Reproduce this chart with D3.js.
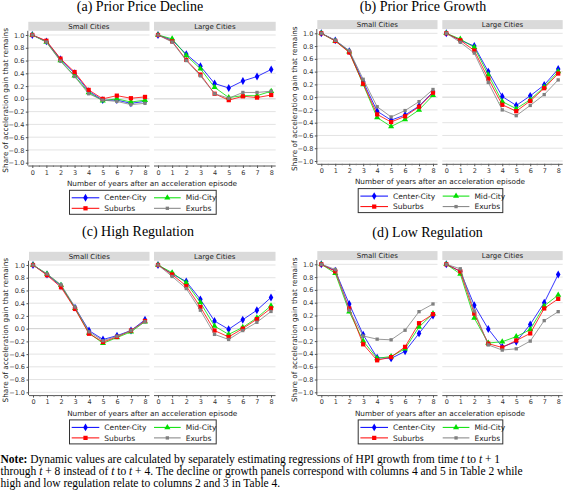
<!DOCTYPE html>
<html><head><meta charset="utf-8">
<script src="https://cdn.jsdelivr.net/npm/d3@7"></script>
<style>body{margin:0;background:#fff}svg{display:block}</style></head>
<body><svg id="chart" width="563" height="501"></svg>
<script>
// ---------- data ----------
const years = [0, 1, 2, 3, 4, 5, 6, 7, 8];
const seriesNames = ["Center-City", "Mid-City", "Suburbs", "Exurbs"];
const panelTitles = ["(a) Prior Price Decline", "(b) Prior Price Growth", "(c) High Regulation", "(d) Low Regulation"];
const facetLabels = ["Small Cities", "Large Cities"];
const yTickValues = [-1.0, -0.8, -0.6, -0.4, -0.2, 0.0, 0.2, 0.4, 0.6, 0.8, 1.0];
const xAxisTitle = "Number of years after an acceleration episode";
const yAxisTitle = "Share of acceleration gain that remains";

// rows: Center-City, Mid-City, Suburbs, Exurbs
const declineSmall = [
  [1.00, 0.90, 0.62, 0.40, 0.12, -0.02, -0.02, -0.07, -0.04],
  [1.00, 0.89, 0.60, 0.36, 0.10, -0.03, 0.00, -0.05, -0.02],
  [1.00, 0.91, 0.63, 0.42, 0.14, 0.00, 0.05, 0.01, 0.03],
  [1.00, 0.89, 0.59, 0.35, 0.08, -0.02, -0.04, -0.09, -0.07]
];
const declineLarge = [
  [1.00, 0.92, 0.70, 0.51, 0.24, 0.17, 0.28, 0.35, 0.46],
  [1.00, 0.94, 0.68, 0.47, 0.18, 0.02, 0.05, 0.05, 0.12],
  [1.00, 0.90, 0.61, 0.38, 0.08, -0.02, 0.04, 0.02, 0.06],
  [1.00, 0.89, 0.60, 0.36, 0.08, 0.01, 0.10, 0.10, 0.12]
];
const growthSmall = [
  [1.00, 0.89, 0.72, 0.24, -0.22, -0.36, -0.28, -0.14, 0.08],
  [1.00, 0.88, 0.71, 0.20, -0.32, -0.46, -0.35, -0.20, 0.03],
  [1.00, 0.88, 0.70, 0.21, -0.27, -0.39, -0.30, -0.15, 0.07],
  [1.00, 0.89, 0.73, 0.28, -0.15, -0.31, -0.21, -0.07, 0.12]
];
const growthLarge = [
  [1.00, 0.89, 0.80, 0.40, 0.01, -0.13, 0.02, 0.19, 0.44],
  [1.00, 0.91, 0.78, 0.35, -0.07, -0.18, -0.04, 0.16, 0.40],
  [1.00, 0.89, 0.73, 0.29, -0.12, -0.22, -0.06, 0.14, 0.37],
  [1.00, 0.86, 0.69, 0.23, -0.20, -0.29, -0.13, 0.04, 0.27]
];
const highRegSmall = [
  [1.00, 0.85, 0.67, 0.33, -0.03, -0.17, -0.11, -0.03, 0.14],
  [1.00, 0.86, 0.68, 0.32, -0.07, -0.23, -0.14, -0.05, 0.11],
  [1.00, 0.84, 0.65, 0.31, -0.08, -0.21, -0.13, -0.03, 0.12],
  [1.00, 0.86, 0.69, 0.34, -0.05, -0.19, -0.12, -0.03, 0.11]
];
const highRegLarge = [
  [1.00, 0.86, 0.74, 0.46, 0.12, -0.01, 0.14, 0.29, 0.49],
  [1.00, 0.88, 0.72, 0.41, 0.04, -0.09, 0.02, 0.17, 0.36],
  [1.00, 0.85, 0.67, 0.34, -0.03, -0.13, 0.00, 0.15, 0.32],
  [1.00, 0.82, 0.63, 0.29, -0.09, -0.17, -0.03, 0.10, 0.27]
];
const lowRegSmall = [
  [1.00, 0.90, 0.38, -0.10, -0.46, -0.47, -0.36, -0.08, 0.20],
  [1.00, 0.86, 0.26, -0.20, -0.47, -0.44, -0.32, 0.02, 0.23],
  [1.00, 0.89, 0.31, -0.25, -0.50, -0.45, -0.29, 0.08, 0.22],
  [1.00, 0.92, 0.28, -0.12, -0.17, -0.18, -0.03, 0.26, 0.38]
];
const lowRegLarge = [
  [1.00, 0.89, 0.36, -0.01, -0.29, -0.21, 0.06, 0.40, 0.84],
  [1.00, 0.85, 0.16, -0.23, -0.21, -0.13, -0.02, 0.35, 0.52],
  [1.00, 0.89, 0.23, -0.24, -0.30, -0.19, -0.08, 0.31, 0.46],
  [1.00, 0.93, 0.27, -0.26, -0.34, -0.32, -0.20, 0.12, 0.26]
];
const noteLines = [
  ["Note:", " Dynamic values are calculated by separately estimating regressions of HPI growth from time ", "t", " to ", "t", " + 1"],
  ["through ", "t", " + 8 instead of ", "t", " to ", "t", " + 4. The decline or growth panels correspond with columns 4 and 5 in Table 2 while"],
  ["high and low regulation relate to columns 2 and 3 in Table 4."]
];

// ---------- styles / layout ----------
const colors = ["#0000ff", "#00e000", "#ff0000", "#808080"];
const symbols = [d3.symbolDiamond, d3.symbolTriangle, d3.symbolSquare, d3.symbolSquare];
const symSizes = [18, 16, 18, 11];
const panelData = [[declineSmall, declineLarge], [growthSmall, growthLarge], [highRegSmall, highRegLarge], [lowRegSmall, lowRegLarge]];
const layout = [
  {tx: 140, ty: 10.5, sL: 28.3, sR: 149.5, lL: 154, lR: 275.7, y1: 35, ym1: 162.7, ytx: 7.5, lx: 69, lw: 146.7},
  {tx: 423, ty: 10.5, sL: 317.3, sR: 437.5, lL: 442.3, lR: 562.7, y1: 33.3, ym1: 161, ytx: 296.5, lx: 357.7, lw: 144.6},
  {tx: 138, ty: 236, sL: 29, sR: 149.5, lL: 154, lR: 275.5, y1: 265, ym1: 392.3, ytx: 7.5, lx: 69, lw: 146.7},
  {tx: 427.5, ty: 237, sL: 317.3, sR: 437.5, lL: 442.3, lR: 562.7, y1: 264.3, ym1: 392.3, ytx: 296.5, lx: 357.7, lw: 144.6}
];
const sans = "DejaVu Sans, sans-serif";
const serif = "Liberation Serif, Times New Roman, serif";

const svg = d3.select("#chart");
svg.append("rect").attr("width", 563).attr("height", 501).attr("fill", "#fff");

layout.forEach((L, pi) => {
  const g = svg.append("g");
  g.append("text").attr("x", L.tx).attr("y", L.ty).attr("text-anchor", "middle")
    .attr("font-family", serif).attr("font-size", 14).attr("fill", "#000").text(panelTitles[pi]);

  const y = d3.scaleLinear().domain([-1, 1]).range([L.ym1, L.y1]);
  const stripTop = L.y1 - 13.2, stripBot = L.y1 - 4.2, plotBot = L.ym1 + 2.8;

  [[L.sL, L.sR], [L.lL, L.lR]].forEach(([left, right], fi) => {
    const x = d3.scaleLinear().domain([0, 8]).range([left + 4, right - 4.5]);
    g.append("rect").attr("x", left).attr("y", stripTop).attr("width", right - left).attr("height", stripBot - stripTop)
      .attr("fill", "#dadada");
    g.append("text").attr("x", (left + right) / 2).attr("y", stripBot - 2.2).attr("text-anchor", "middle")
      .attr("font-family", sans).attr("font-size", 7).attr("fill", "#222").text(facetLabels[fi]);
    g.append("g").selectAll("line").data(yTickValues).join("line")
      .attr("x1", left).attr("x2", right).attr("y1", d => y(d)).attr("y2", d => y(d))
      .attr("stroke", d => d === 0 ? "#cfcfcf" : "#e3e3e3").attr("stroke-width", 1);
    const xa = g.append("g").attr("transform", `translate(0,${plotBot})`)
      .call(d3.axisBottom(x).tickValues(years).tickSize(2.5).tickPadding(2).tickFormat(d3.format("d")));
    xa.select(".domain").attr("d", `M${left},0.5H${right}`).attr("stroke", "#555");
    xa.selectAll(".tick line").attr("stroke", "#555");
    xa.selectAll("text").attr("font-family", sans).attr("font-size", 6.5).attr("fill", "#333");
    g.append("g").attr("transform", `translate(0,${plotBot})`).selectAll("line")
      .data(d3.range(0.5, 8, 1)).join("line")
      .attr("x1", d => x(d)).attr("x2", d => x(d)).attr("y1", 0).attr("y2", 1.5).attr("stroke", "#777");
    if (fi === 0) {
      const ya = g.append("g").attr("transform", `translate(${left},0)`)
        .call(d3.axisLeft(y).tickValues(yTickValues).tickSize(2.5).tickPadding(1.5).tickFormat(d3.format(".1f")));
      ya.select(".domain").attr("d", `M-0.5,${stripBot}V${plotBot}`).attr("stroke", "#555");
      ya.selectAll(".tick line").attr("stroke", "#555");
      ya.selectAll("text").attr("font-family", sans).attr("font-size", 6.5).attr("fill", "#333");
    }
    const rows = panelData[pi][fi];
    rows.forEach((vals, si) => {
      const pts = years.map((yr, k) => [x(yr), y(vals[k])]);
      g.append("path").attr("d", d3.line()(pts)).attr("fill", "none")
        .attr("stroke", colors[si]).attr("stroke-width", 0.8);
      g.append("g").selectAll("path").data(pts).join("path")
        .attr("transform", d => `translate(${d[0]},${d[1]})`)
        .attr("d", d3.symbol(symbols[si], symSizes[si])).attr("fill", colors[si]);
    });
  });

  g.append("text").attr("x", (L.sL + L.lR) / 2).attr("y", plotBot + 20.5).attr("text-anchor", "middle")
    .attr("font-family", sans).attr("font-size", 7.3).attr("fill", "#222").text(xAxisTitle);
  const yc = (L.y1 + L.ym1) / 2 + 1.5;
  g.append("text").attr("transform", `translate(${L.ytx},${yc}) rotate(-90)`).attr("text-anchor", "middle")
    .attr("font-family", sans).attr("font-size", 7.3).attr("fill", "#222").text(yAxisTitle);

  const lt = plotBot + 24.3;
  const lg = g.append("g").attr("transform", `translate(${L.lx},${lt})`);
  lg.append("rect").attr("x", 0.5).attr("y", 0.5).attr("width", L.lw).attr("height", 24)
    .attr("fill", "#fff").attr("stroke", "#333").attr("stroke-width", 1);
  const legPos = [[0, 0], [1, 0], [0, 1], [1, 1]];
  seriesNames.forEach((name, si) => {
    const [c, r] = legPos[si];
    const x0 = c === 0 ? 2.7 : 85, x1 = c === 0 ? 30.3 : 111.7, tx = c === 0 ? 35.3 : 116.7;
    const yy = r === 0 ? 8 : 18.5;
    lg.append("line").attr("x1", x0).attr("x2", x1).attr("y1", yy).attr("y2", yy)
      .attr("stroke", colors[si]).attr("stroke-width", 1);
    lg.append("path").attr("transform", `translate(${(x0 + x1) / 2},${yy})`)
      .attr("d", d3.symbol(symbols[si], symSizes[si])()).attr("fill", colors[si]);
    lg.append("text").attr("x", tx).attr("y", yy + 2.7).attr("font-family", sans).attr("font-size", 7.5)
      .attr("fill", "#222").text(name);
  });
});

const noteY = [463.3, 475, 486.7];
noteLines.forEach((parts, li) => {
  const t = svg.append("text").attr("x", 0.5).attr("y", noteY[li]).attr("font-family", serif)
    .attr("font-size", 11.5).attr("fill", "#000");
  parts.forEach((p) => {
    const ts = t.append("tspan").text(p);
    if (p === "Note:") ts.attr("font-weight", "bold");
    if (p === "t") ts.attr("font-style", "italic");
  });
});
</script></body></html>
